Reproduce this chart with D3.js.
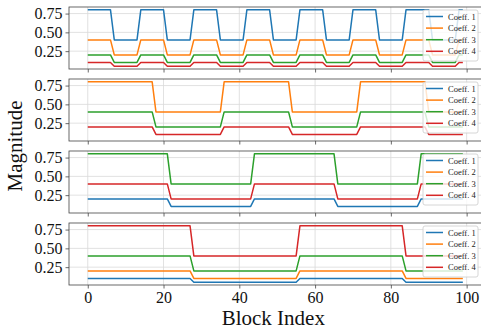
<!doctype html>
<html>
	<head>
		<title>Coefficient magnitudes per block</title>
		<script src="https://d3js.org/d3.v7.min.js"></script>
		<style>
		body { margin: 0; background: #fff; }
		svg { display: block; font-family: "Liberation Serif", "Times New Roman", serif; }
		.grid line { stroke: #d9d9d9; stroke-width: 0.8; }
		.axis path { display: none; }
		.axis line { stroke: #444; stroke-width: 0.8; }
		.axis text { fill: #111; font-size: 16px; font-family: "Liberation Serif", serif; }
		</style>
	</head>
	<body>
		<svg id="chart" width="481" height="332"></svg>
		<script>
		// x categories
		var blockIndex = d3.range(100);
		var coeffNames = ["Coeff. 1", "Coeff. 2", "Coeff. 3", "Coeff. 4"];

		// run lengths of alternating high / low blocks (each panel starts high)
		var panel1Runs = [7, 7, 7, 7, 7, 7, 7, 7, 7, 7, 7, 7, 7, 7, 2];
		var panel2Runs = [18, 18, 18, 18, 18, 10];
		var panel3Runs = [22, 22, 22, 22, 12];
		var panel4Runs = [28, 28, 28, 16];

		// magnitude of each coefficient in the high / low state (null = not drawn)
		var panel1High = [0.8, 0.4, 0.2, 0.1];
		var panel1Low  = [0.4, 0.2, 0.1, 0.05];
		var panel2High = [null, 0.8, 0.4, 0.2];
		var panel2Low  = [null, 0.4, 0.2, 0.1];
		var panel3High = [0.2, null, 0.8, 0.4];
		var panel3Low  = [0.1, null, 0.4, 0.2];
		var panel4High = [0.1, 0.2, 0.4, 0.8];
		var panel4Low  = [0.05, 0.1, 0.2, 0.4];

		var yTicks = [0.25, 0.5, 0.75];
		var xTicks = [0, 20, 40, 60, 80, 100];

		var colors = ["#1f77b4", "#ff7f0e", "#2ca02c", "#d62728"];

		var panels = [
			{runs: panel1Runs, high: panel1High, low: panel1Low},
			{runs: panel2Runs, high: panel2High, low: panel2Low},
			{runs: panel3Runs, high: panel3High, low: panel3Low},
			{runs: panel4Runs, high: panel4High, low: panel4Low}
		];

		function statesFromRuns(runs) {
			var states = [], high = true;
			runs.forEach(function(n) {
				for (var i = 0; i < n; i++) states.push(high);
				high = !high;
			});
			return states;
		}

		var svg = d3.select("#chart");
		var left = 69, right = 481.6, top0 = 7, panelH = 62, gap = 10;

		var x = d3.scaleLinear().domain([-4.95, 103.95]).range([left, right]);

		panels.forEach(function(p, pi) {
			var top = top0 + pi * (panelH + gap), bottom = top + panelH;
			var y = d3.scaleLinear().domain([0.0125, 0.8375]).range([bottom, top]);
			var states = statesFromRuns(p.runs);

			var g = svg.append("g");
			var clipId = "clip" + pi;
			svg.append("clipPath").attr("id", clipId).append("rect")
				.attr("x", left).attr("y", top).attr("width", right - left).attr("height", panelH);

			// grid
			var grid = g.append("g").attr("class", "grid");
			grid.selectAll(".gx").data(xTicks).enter().append("line")
				.attr("x1", x).attr("x2", x).attr("y1", top).attr("y2", bottom);
			grid.selectAll(".gy").data(yTicks).enter().append("line")
				.attr("x1", left).attr("x2", right).attr("y1", y).attr("y2", y);

			// lines
			var line = d3.line().x(function(d) { return x(d[0]); }).y(function(d) { return y(d[1]); });
			var lines = g.append("g").attr("clip-path", "url(#" + clipId + ")");
			coeffNames.forEach(function(name, ci) {
				if (p.high[ci] == null) return;
				var pts = blockIndex.map(function(b) { return [b, states[b] ? p.high[ci] : p.low[ci]]; });
				lines.append("path").datum(pts)
					.attr("d", line).attr("fill", "none")
					.attr("stroke", colors[ci]).attr("stroke-width", 1.5)
					.attr("stroke-linejoin", "round");
			});

			// frame
			g.append("rect").attr("x", left).attr("y", top).attr("width", right - left).attr("height", panelH)
				.attr("fill", "none").attr("stroke", "#444").attr("stroke-width", 0.8);

			// axes
			g.append("g").attr("class", "axis").attr("transform", "translate(" + left + ",0)")
				.call(d3.axisLeft(y).tickValues(yTicks).tickFormat(d3.format(".2f")).tickSizeOuter(0).tickSize(3.5).tickPadding(3));
			var xa = d3.axisBottom(x).tickValues(xTicks).tickSize(3.5).tickSizeOuter(0).tickPadding(3);
			if (pi < 3) xa.tickFormat("");
			g.append("g").attr("class", "axis").attr("transform", "translate(0," + bottom + ")").call(xa);

			// legend
			var lg = g.append("g").attr("transform", "translate(423," + (top + 3) + ")");
			lg.append("rect").attr("width", 55).attr("height", 51).attr("rx", 2)
				.attr("fill", "#fff").attr("fill-opacity", 0.8).attr("stroke", "#ccc").attr("stroke-width", 0.8);
			coeffNames.forEach(function(name, ci) {
				var ly = 6.5 + ci * 11.6;
				lg.append("line").attr("x1", 3).attr("x2", 20).attr("y1", ly).attr("y2", ly)
					.attr("stroke", colors[ci]).attr("stroke-width", 1.5);
				lg.append("text").attr("x", 25).attr("y", ly + 3).attr("font-size", 8.5)
					.attr("fill", "#222").text(name);
			});
		});

		svg.append("text").attr("x", (left + right) / 2 - 2).attr("y", 325)
			.attr("text-anchor", "middle").attr("font-size", 21).attr("fill", "#111").text("Block Index");
		svg.append("text").attr("transform", "translate(22," + (top0 + (4 * panelH + 3 * gap) / 2) + ") rotate(-90)")
			.attr("text-anchor", "middle").attr("font-size", 21).attr("fill", "#111").text("Magnitude");
		</script>
	</body>
</html>
